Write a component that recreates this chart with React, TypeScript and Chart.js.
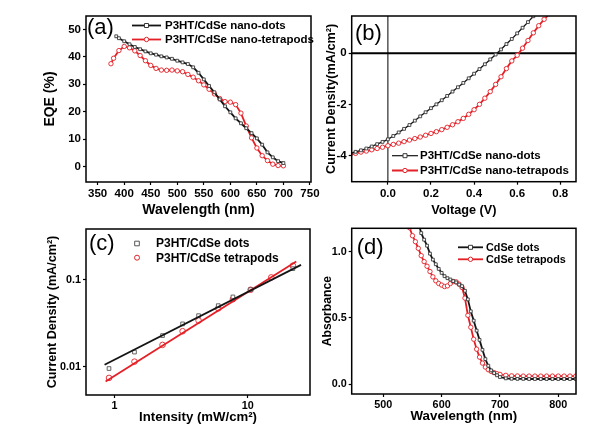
import React, { useEffect, useRef } from "react";
import { Chart, registerables } from "chart.js";
Chart.register(...registerables);

const PAGE_W = 610;
const PAGE_H = 433;
const FONT = "'Liberation Sans', Arial, Helvetica, sans-serif";
const BLACK = "#141414";
const RED = "#e41f26";
const MARK_GRAY = "#3a3a3a";

// ---------- (a) EQE ----------
const eqeWavelengthDots = [385, 390, 400, 410, 420, 430, 440, 450, 460, 470, 480, 490, 500, 510, 520, 530, 540, 550, 560, 570, 580, 590, 600, 610, 620, 630, 640, 650, 660, 670, 680, 690, 700];
const eqeDots = [47.5, 46.8, 45.7, 44.6, 43.6, 42.8, 42.0, 41.3, 40.8, 40.2, 39.8, 39.3, 38.6, 38.0, 37.4, 36.2, 34.2, 31.8, 29.4, 27.1, 24.5, 22.0, 19.8, 17.6, 15.8, 14.0, 12.2, 10.3, 8.0, 5.2, 3.4, 2.0, 1.3];
const eqeWavelengthPods = [375, 380, 390, 400, 410, 420, 430, 440, 450, 460, 470, 480, 490, 500, 510, 520, 530, 540, 550, 560, 570, 580, 590, 600, 610, 620, 630, 640, 650, 660, 670, 680, 690, 700];
const eqePods = [37.5, 39.5, 42.3, 43.8, 43.3, 42.2, 40.5, 38.6, 36.9, 35.8, 35.2, 35.1, 35.2, 34.9, 34.6, 33.6, 32.6, 31.3, 29.8, 28.2, 26.5, 24.8, 23.7, 23.5, 22.6, 19.5, 14.8, 10.5, 6.8, 4.0, 2.2, 0.9, 0.4, 0.3];
const eqeXTicks = [350, 400, 450, 500, 550, 600, 650, 700, 750];
const eqeXLabels = ["350", "400", "450", "500", "550", "600", "650", "700", "750"];
const eqeYTicks = [0, 10, 20, 30, 40, 50];
const eqeYLabels = ["0", "10", "20", "30", "40", "50"];

// ---------- (b) J-V ----------
const jvVoltageDots = [-0.175, -0.15, -0.125, -0.1, -0.075, -0.05, -0.025, 0, 0.025, 0.05, 0.075, 0.1, 0.125, 0.15, 0.175, 0.2, 0.225, 0.25, 0.275, 0.3, 0.325, 0.35, 0.375, 0.4, 0.425, 0.45, 0.475, 0.5, 0.525, 0.55, 0.575, 0.6, 0.625, 0.65, 0.675];
const jvDots = [-3.92, -3.86, -3.8, -3.73, -3.65, -3.56, -3.47, -3.37, -3.24, -3.1, -2.96, -2.81, -2.64, -2.47, -2.31, -2.15, -2.0, -1.84, -1.67, -1.5, -1.33, -1.16, -0.98, -0.8, -0.62, -0.43, -0.24, -0.05, 0.15, 0.36, 0.56, 0.78, 1.0, 1.22, 1.45];
const jvVoltagePods = [-0.175, -0.15, -0.125, -0.1, -0.075, -0.05, -0.025, 0, 0.025, 0.05, 0.075, 0.1, 0.125, 0.15, 0.175, 0.2, 0.225, 0.25, 0.275, 0.3, 0.325, 0.35, 0.375, 0.4, 0.425, 0.45, 0.475, 0.5, 0.525, 0.55, 0.575, 0.6, 0.625, 0.65, 0.675, 0.7, 0.725, 0.75];
const jvPods = [-3.96, -3.92, -3.87, -3.83, -3.78, -3.73, -3.68, -3.62, -3.57, -3.52, -3.46, -3.4, -3.34, -3.28, -3.21, -3.14, -3.07, -2.99, -2.9, -2.8, -2.68, -2.55, -2.39, -2.21, -2.0, -1.76, -1.5, -1.22, -0.92, -0.6, -0.3, -0.08, 0.2, 0.5, 0.8, 1.08, 1.33, 1.55];
const jvXTicks = [0, 0.2, 0.4, 0.6, 0.8];
const jvXLabels = ["0.0", "0.2", "0.4", "0.6", "0.8"];
const jvYTicks = [-4, -2, 0];
const jvYLabels = ["-4", "-2", "0"];

// ---------- (c) Jsc vs intensity ----------
const intensityDots = [0.908, 1.41, 2.29, 3.24, 4.27, 6.0, 7.73, 10.5, 21.8];
const jscDots = [0.0095, 0.0147, 0.0228, 0.0311, 0.0387, 0.0505, 0.0637, 0.0775, 0.135];
const intensityPods = [0.908, 1.41, 2.29, 3.24, 4.27, 6.0, 7.73, 10.5, 15.0, 21.8];
const jscPods = [0.0074, 0.0114, 0.0178, 0.0256, 0.034, 0.047, 0.06, 0.077, 0.107, 0.146];
const fitIntensityDots = [0.841, 25.1];
const fitJscDots = [0.0105, 0.149];
const fitIntensityPods = [0.856, 23.1];
const fitJscPods = [0.00672, 0.163];
const intensityTicks = [1, 10];
const intensityLabels = ["1", "10"];
const jscTicks = [0.01, 0.1];
const jscLabels = ["0.01", "0.1"];

// ---------- (d) Absorbance ----------
const absWavelengthDots = [560, 565, 570, 575, 580, 585, 590, 595, 600, 605, 610, 615, 620, 625, 630, 635, 640, 645, 650, 655, 660, 665, 670, 675, 680, 685, 690, 695, 700, 710, 720, 730, 740, 750, 760, 770, 780, 790, 800, 810, 820, 830];
const absDots = [1.22, 1.14, 1.09, 1.045, 0.985, 0.94, 0.905, 0.87, 0.84, 0.815, 0.8, 0.79, 0.778, 0.768, 0.752, 0.74, 0.705, 0.64, 0.55, 0.48, 0.405, 0.335, 0.26, 0.19, 0.14, 0.105, 0.085, 0.068, 0.055, 0.045, 0.042, 0.041, 0.041, 0.04, 0.04, 0.04, 0.04, 0.04, 0.04, 0.04, 0.04, 0.04];
const absWavelengthPods = [545, 550, 555, 560, 565, 570, 575, 580, 585, 590, 595, 600, 605, 610, 615, 620, 625, 630, 635, 640, 645, 650, 655, 660, 665, 670, 675, 680, 685, 690, 695, 700, 710, 720, 730, 740, 750, 760, 770, 780, 790, 800, 810, 820, 830];
const absPods = [1.18, 1.12, 1.075, 1.025, 0.97, 0.925, 0.89, 0.85, 0.81, 0.78, 0.76, 0.748, 0.737, 0.742, 0.76, 0.775, 0.772, 0.755, 0.73, 0.65, 0.52, 0.43, 0.34, 0.265, 0.205, 0.16, 0.13, 0.11, 0.097, 0.088, 0.08, 0.075, 0.068, 0.064, 0.063, 0.062, 0.062, 0.062, 0.062, 0.062, 0.062, 0.062, 0.062, 0.062, 0.062];
const absXTicks = [500, 600, 700, 800];
const absXLabels = ["500", "600", "700", "800"];
const absYTicks = [0, 0.5, 1.0];
const absYLabels = ["0.0", "0.5", "1.0"];

type Area = { l: number; t: number; r: number; b: number };

function xy(xs: number[], ys: number[]) {
  return xs.map((x, i) => ({ x, y: ys[i] }));
}

function axisCfg(o: {
  type: string;
  horizontal: boolean;
  min: number;
  max: number;
  ticks: number[];
  labels: string[];
  title: string;
  titleSize: number;
  tickSize: number;
  size: number;
}) {
  return {
    type: o.type,
    position: o.horizontal ? "bottom" : "left",
    min: o.min,
    max: o.max,
    bounds: "data",
    afterBuildTicks: (s: any) => {
      s.ticks = o.ticks.map((v) => ({ value: v }));
    },
    afterFit: (s: any) => {
      if (o.horizontal) s.height = o.size;
      else s.width = o.size;
      s.paddingLeft = 0;
      s.paddingRight = 0;
      s.paddingTop = 0;
      s.paddingBottom = 0;
    },
    ticks: {
      autoSkip: false,
      maxRotation: 0,
      minRotation: 0,
      padding: 2,
      color: "#000",
      font: { family: FONT, size: o.tickSize, weight: "bold" },
      callback: (_v: any, i: number) => o.labels[i],
    },
    grid: {
      display: true,
      drawOnChartArea: false,
      drawTicks: true,
      tickLength: 3,
      tickColor: "#000",
      tickWidth: 1.2,
    },
    border: { display: false },
    title: {
      display: true,
      text: o.title,
      color: "#000",
      padding: 0,
      font: { family: FONT, size: o.titleSize, weight: "bold", lineHeight: 1 },
    },
  };
}

type LegendItem = {
  label: string;
  color: string;
  lineWidth: number;
  marker: "rect" | "circle";
  markerColor: string;
  r: number;
  line: boolean;
};

function drawMarker(ctx: CanvasRenderingContext2D, style: string, x: number, y: number, r: number, stroke: string) {
  ctx.save();
  ctx.fillStyle = "#fff";
  ctx.strokeStyle = stroke;
  ctx.lineWidth = 1;
  ctx.beginPath();
  if (style === "rect") ctx.rect(x - r, y - r, 2 * r, 2 * r);
  else ctx.arc(x, y, r, 0, Math.PI * 2);
  ctx.fill();
  ctx.stroke();
  ctx.restore();
}

function panelPlugin(cfg: {
  id: string;
  label: string;
  labelX: number;
  labelY: number;
  legendX: number;
  legendY: number[];
  sampleLen: number;
  textX: number;
  legendSize: number;
  items: LegendItem[];
  under?: (chart: any) => void;
}) {
  return {
    id: cfg.id,
    beforeDatasetsDraw(chart: any) {
      if (cfg.under) cfg.under(chart);
    },
    afterDraw(chart: any) {
      const ctx: CanvasRenderingContext2D = chart.ctx;
      const a = chart.chartArea;
      ctx.save();
      ctx.strokeStyle = "#000";
      ctx.lineWidth = 1.5;
      ctx.strokeRect(a.left, a.top, a.right - a.left, a.bottom - a.top);
      ctx.fillStyle = "#000";
      ctx.textBaseline = "middle";
      ctx.textAlign = "left";
      ctx.font = `22px ${FONT}`;
      ctx.fillText(cfg.label, cfg.labelX, cfg.labelY);
      ctx.font = `bold ${cfg.legendSize}px ${FONT}`;
      cfg.items.forEach((it, i) => {
        const y = cfg.legendY[i];
        if (it.line) {
          ctx.strokeStyle = it.color;
          ctx.lineWidth = it.lineWidth;
          ctx.beginPath();
          ctx.moveTo(cfg.legendX, y);
          ctx.lineTo(cfg.legendX + cfg.sampleLen, y);
          ctx.stroke();
        }
        drawMarker(ctx, it.marker, cfg.legendX + cfg.sampleLen / 2, y, it.r, it.markerColor);
        ctx.fillStyle = "#000";
        ctx.fillText(it.label, cfg.textX, y + 0.5);
      });
      ctx.restore();
    },
  };
}

function baseOptions(area: Area, yTitleX: number, yTitleSize: number, xTitleY: number, xTitleSize: number) {
  const yLeft = yTitleX - yTitleSize / 2;
  const xBottom = xTitleY + xTitleSize / 2;
  return {
    yWidth: area.l - yLeft,
    xHeight: xBottom - area.b,
    padding: { left: yLeft, top: area.t, right: PAGE_W - area.r, bottom: PAGE_H - xBottom },
  };
}

function lineDs(label: string, data: any[], color: string, width: number, marker: string, markerColor: string, r: number) {
  return {
    type: "line",
    label,
    data,
    borderColor: color,
    borderWidth: width,
    pointStyle: marker,
    pointRadius: r,
    pointBackgroundColor: "#fff",
    pointBorderColor: markerColor,
    pointBorderWidth: 0.9,
    tension: 0,
    fill: false,
  };
}

function makeConfig(datasets: any[], xAxis: any, yAxis: any, padding: any, plugin: any) {
  return {
    type: "line",
    data: { datasets },
    options: {
      responsive: false,
      animation: false,
      devicePixelRatio: 1,
      parsing: true,
      layout: { padding },
      plugins: { legend: { display: false }, tooltip: { enabled: false } },
      scales: { x: xAxis, y: yAxis },
    },
    plugins: [plugin],
  };
}

function configA() {
  const area = { l: 86, t: 16, r: 311, b: 182 };
  const g = baseOptions(area, 50, 14, 210, 14);
  const x = axisCfg({ type: "linear", horizontal: true, min: 328, max: 752, ticks: eqeXTicks, labels: eqeXLabels, title: "Wavelength (nm)", titleSize: 14, tickSize: 11.5, size: g.xHeight });
  const y = axisCfg({ type: "linear", horizontal: false, min: -5.6, max: 54.9, ticks: eqeYTicks, labels: eqeYLabels, title: "EQE (%)", titleSize: 14, tickSize: 11.5, size: g.yWidth });
  const ds = [
    lineDs("P3HT/CdSe nano-dots", xy(eqeWavelengthDots, eqeDots), BLACK, 1.8, "rect", MARK_GRAY, 2),
    lineDs("P3HT/CdSe nano-tetrapods", xy(eqeWavelengthPods, eqePods), RED, 1.8, "circle", RED, 2.2),
  ];
  const plugin = panelPlugin({
    id: "pa",
    label: "(a)",
    labelX: 87,
    labelY: 28,
    legendX: 132,
    legendY: [25.5, 39.5],
    sampleLen: 29,
    textX: 165,
    legendSize: 11.5,
    items: [
      { label: "P3HT/CdSe nano-dots", color: BLACK, lineWidth: 1.8, marker: "rect", markerColor: MARK_GRAY, r: 2, line: true },
      { label: "P3HT/CdSe nano-tetrapods", color: RED, lineWidth: 1.8, marker: "circle", markerColor: RED, r: 2.2, line: true },
    ],
  });
  return makeConfig(ds, x, y, g.padding, plugin);
}

function configB() {
  const area = { l: 351.7, t: 16, r: 576, b: 181.7 };
  const g = baseOptions(area, 331.7, 12.7, 210, 12.7);
  const x = axisCfg({ type: "linear", horizontal: true, min: -0.168, max: 0.873, ticks: jvXTicks, labels: jvXLabels, title: "Voltage (V)", titleSize: 12.7, tickSize: 11.5, size: g.xHeight });
  const y = axisCfg({ type: "linear", horizontal: false, min: -5.03, max: 1.46, ticks: jvYTicks, labels: jvYLabels, title: "Current Density(mA/cm²)", titleSize: 12.7, tickSize: 11.5, size: g.yWidth });
  const ds = [
    lineDs("P3HT/CdSe nano-dots", xy(jvVoltageDots, jvDots), BLACK, 1.3, "rect", MARK_GRAY, 2),
    lineDs("P3HT/CdSe nano-tetrapods", xy(jvVoltagePods, jvPods), RED, 1.8, "circle", RED, 2.2),
  ];
  const plugin = panelPlugin({
    id: "pb",
    label: "(b)",
    labelX: 355,
    labelY: 34,
    legendX: 392,
    legendY: [155.7, 170.5],
    sampleLen: 26,
    textX: 420,
    legendSize: 11.5,
    items: [
      { label: "P3HT/CdSe nano-dots", color: BLACK, lineWidth: 1.2, marker: "rect", markerColor: MARK_GRAY, r: 2, line: true },
      { label: "P3HT/CdSe nano-tetrapods", color: RED, lineWidth: 2, marker: "circle", markerColor: RED, r: 2.2, line: true },
    ],
    under: (chart: any) => {
      const ctx: CanvasRenderingContext2D = chart.ctx;
      const a = chart.chartArea;
      const y0 = chart.scales.y.getPixelForValue(0);
      const x0 = chart.scales.x.getPixelForValue(0);
      ctx.save();
      ctx.strokeStyle = "#000";
      ctx.lineWidth = 2;
      ctx.beginPath();
      ctx.moveTo(a.left, y0);
      ctx.lineTo(a.right, y0);
      ctx.stroke();
      ctx.lineWidth = 1;
      ctx.beginPath();
      ctx.moveTo(x0, a.top);
      ctx.lineTo(x0, a.bottom);
      ctx.stroke();
      ctx.restore();
    },
  });
  return makeConfig(ds, x, y, g.padding, plugin);
}

function configC() {
  const area = { l: 86, t: 229, r: 310, b: 395 };
  const g = baseOptions(area, 53, 12.6, 417, 13.2);
  const x = axisCfg({ type: "logarithmic", horizontal: true, min: 0.61, max: 29.3, ticks: intensityTicks, labels: intensityLabels, title: "Intensity (mW/cm²)", titleSize: 13.2, tickSize: 10.8, size: g.xHeight });
  const y = axisCfg({ type: "logarithmic", horizontal: false, min: 0.0047, max: 0.387, ticks: jscTicks, labels: jscLabels, title: "Current Density (mA/cm²)", titleSize: 12.6, tickSize: 10.8, size: g.yWidth });
  const ds = [
    { ...lineDs("fit dots", xy(fitIntensityDots, fitJscDots), BLACK, 1.8, "circle", BLACK, 0) },
    { ...lineDs("fit tetrapods", xy(fitIntensityPods, fitJscPods), RED, 1.8, "circle", RED, 0) },
    { ...lineDs("P3HT/CdSe dots", xy(intensityDots, jscDots), BLACK, 0, "rect", "#555", 2.6), showLine: false },
    { ...lineDs("P3HT/CdSe tetrapods", xy(intensityPods, jscPods), RED, 0, "circle", RED, 2.8), showLine: false },
  ];
  const plugin = panelPlugin({
    id: "pc",
    label: "(c)",
    labelX: 89,
    labelY: 243.8,
    legendX: 134,
    legendY: [243.5, 257.7],
    sampleLen: 6,
    textX: 156,
    legendSize: 12,
    items: [
      { label: "P3HT/CdSe dots", color: BLACK, lineWidth: 0, marker: "rect", markerColor: "#555", r: 2.3, line: false },
      { label: "P3HT/CdSe tetrapods", color: RED, lineWidth: 0, marker: "circle", markerColor: RED, r: 2.5, line: false },
    ],
  });
  return makeConfig(ds, x, y, g.padding, plugin);
}

function configD() {
  const area = { l: 351.7, t: 228.3, r: 576, b: 394 };
  const g = baseOptions(area, 328, 12.2, 416.5, 13.3);
  const x = axisCfg({ type: "linear", horizontal: true, min: 445.8, max: 830.4, ticks: absXTicks, labels: absXLabels, title: "Wavelength (nm)", titleSize: 13.3, tickSize: 10.8, size: g.xHeight });
  const y = axisCfg({ type: "linear", horizontal: false, min: -0.073, max: 1.176, ticks: absYTicks, labels: absYLabels, title: "Absorbance", titleSize: 12.2, tickSize: 10.8, size: g.yWidth });
  const ds = [
    lineDs("CdSe dots", xy(absWavelengthDots, absDots), BLACK, 1.8, "rect", MARK_GRAY, 2),
    lineDs("CdSe tetrapods", xy(absWavelengthPods, absPods), RED, 1.8, "circle", RED, 2.2),
  ];
  const plugin = panelPlugin({
    id: "pd",
    label: "(d)",
    labelX: 356.7,
    labelY: 248.3,
    legendX: 458,
    legendY: [247.3, 259.3],
    sampleLen: 25,
    textX: 486,
    legendSize: 10.8,
    items: [
      { label: "CdSe dots", color: BLACK, lineWidth: 1.8, marker: "rect", markerColor: MARK_GRAY, r: 2, line: true },
      { label: "CdSe tetrapods", color: RED, lineWidth: 1.8, marker: "circle", markerColor: RED, r: 2.2, line: true },
    ],
  });
  return makeConfig(ds, x, y, g.padding, plugin);
}

function Panel({ make }: { make: () => any }) {
  const ref = useRef<HTMLCanvasElement | null>(null);
  useEffect(() => {
    if (!ref.current) return;
    const chart = new Chart(ref.current, make());
    return () => chart.destroy();
  }, [make]);
  return (
    <canvas
      ref={ref}
      width={PAGE_W}
      height={PAGE_H}
      style={{ position: "absolute", left: 0, top: 0, width: PAGE_W, height: PAGE_H }}
    />
  );
}

export default function App() {
  return (
    <div style={{ position: "fixed", left: 0, top: 0, width: PAGE_W, height: PAGE_H, background: "#fff", overflow: "hidden" }}>
      <Panel make={configA} />
      <Panel make={configB} />
      <Panel make={configC} />
      <Panel make={configD} />
    </div>
  );
}
